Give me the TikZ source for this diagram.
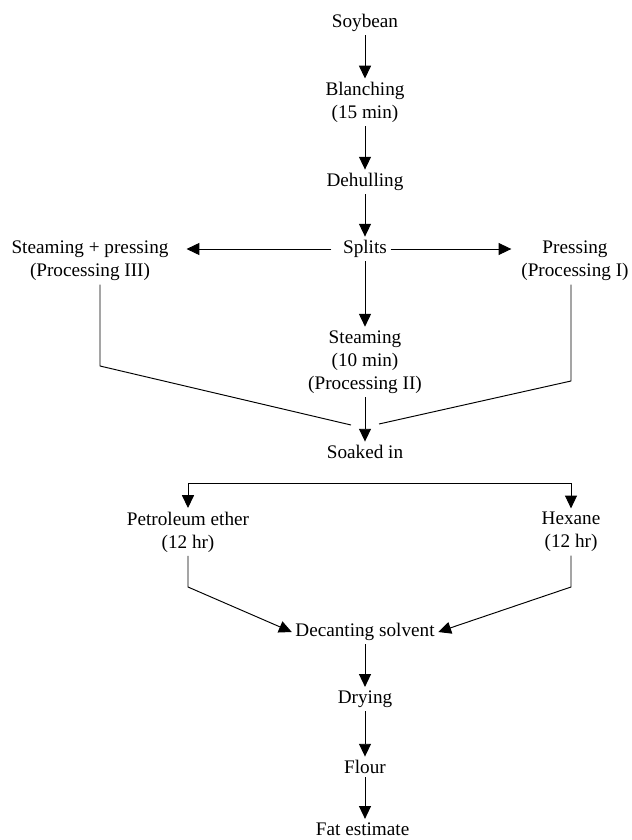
\documentclass[tikz,border=0pt]{standalone}
\usepackage{fontspec}
\setmainfont{Liberation Serif}
\usetikzlibrary{arrows.meta}
\begin{document}
\begin{tikzpicture}[x=0.625pt,y=-0.625pt,line width=0.6pt,
        box/.style={align=center,inner sep=2pt,font=\fontsize{12}{14.5}\selectfont},
        arr/.style={-{Triangle[length=8pt,width=7.5pt]}}]
        \useasboundingbox (0,0) rectangle (632,840);
        %流程圖的各個步驟
        \foreach \n/\x/\y/\t in
        { soy/365/23/Soybean,
            blanch/365/102.5/{Blanching\\(15 min)},
            dehull/365/182/Dehulling,
            splits/365/249/Splits,
            steampress/90/261/{Steaming + pressing\\(Processing III)},
            press/575/261/{Pressing\\(Processing I)},
            steam/365/362/{Steaming\\(10 min)\\(Processing II)},
            soak/365/452/Soaked in,
            pet/188/532/{Petroleum ether\\(12 hr)},
            hex/571/532/{Hexane\\(12 hr)},
            decant/365/632/Decanting solvent,
            dry/365/699/Drying,
            flour/365/767/Flour,
            fat/365/829/Fat estimate
        }
        {
            \node[box] (\n) at (\x,\y) {\t};
        };

        \coordinate (L1) at (100,366);
        \coordinate (L2) at (351,425);
        \coordinate (R1) at (571,381);
        \coordinate (R2) at (379,424);
        \coordinate (S) at (380,483);
        \coordinate (P1) at (188,587);
        \coordinate (H1) at (571,587);

        \draw[arr] (soy) -- (blanch);
        \draw[arr] (blanch) -- (dehull);
        \draw[arr] (dehull) -- (splits);
        \draw[arr] (splits) -- (steam);
        \draw[arr] (steam) -- (soak);
        \draw[arr,shorten <=5pt,shorten >=9pt] (splits) -- (splits -| steampress.east);
        \draw[arr,shorten >=4pt] (splits) -- (splits -| press.west);

        \draw (steampress.south -| L1) -- (L1) -- (L2);
        \draw (press.south -| R1) -- (R1) -- (R2);

        \draw[arr] (S) -| (pet);
        \draw[arr] (S) -| (hex);
        \draw[arr] (pet.south -| P1) -- (P1) -- (decant.west);
        \draw[arr] (hex.south -| H1) -- (H1) -- (decant.east);

        \draw[arr] (decant) -- (dry);
        \draw[arr] (dry) -- (flour);
        \draw[arr] (flour) -- (fat);
\end{tikzpicture}
\end{document}
